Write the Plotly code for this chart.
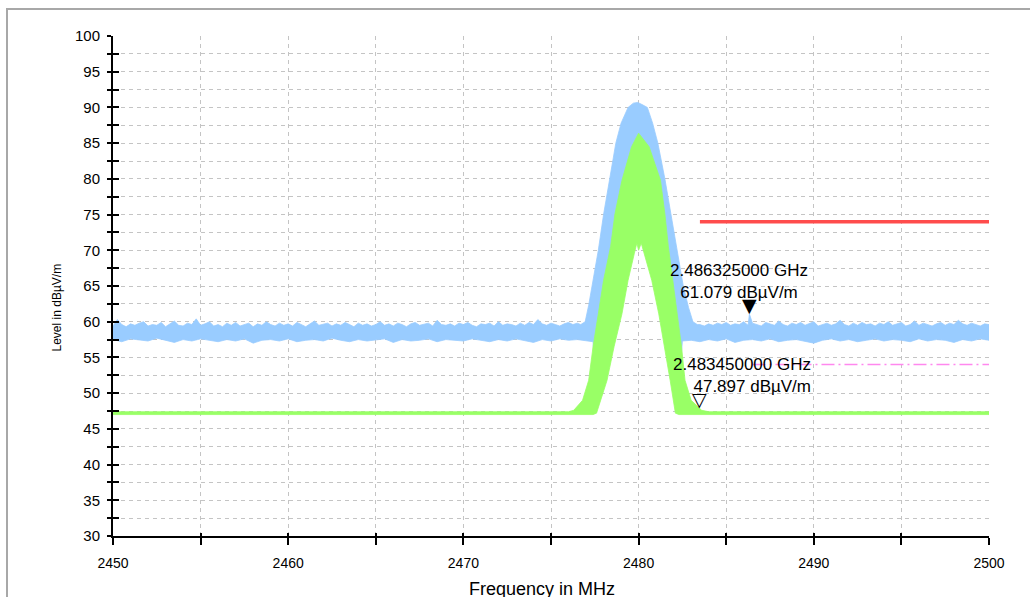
import plotly.graph_objects as go

# ---- data (frequency in MHz, level in dBuV/m) ----

# blue trace, noise floor upper envelope, 0.25 MHz grid
blue_hi_left_f = [2450 + 0.25 * i for i in range(107)]
blue_hi_left = [
    59.4, 60.3, 59.6, 59.3, 59.7, 59.5, 59.8, 60.0, 59.4, 59.6,
    59.5, 59.9, 59.3, 59.7, 60.1, 59.5, 59.4, 59.8, 59.6, 60.4,
    59.5, 59.7, 60.0, 59.4, 59.6, 59.3, 59.8, 59.5, 59.9, 59.4,
    59.6, 59.8, 59.3, 59.7, 59.5, 60.0, 59.6, 59.4, 59.8, 59.5,
    59.7, 59.4, 59.9, 59.6, 59.3, 59.7, 60.1, 59.5, 59.6, 59.8,
    59.4, 59.7, 59.5, 59.9, 59.6, 59.3, 59.8, 59.5, 59.7, 59.4,
    59.6, 60.0, 59.5, 59.7, 59.4, 59.8, 59.6, 59.3, 59.7, 59.9,
    59.5, 59.6, 59.8, 59.4, 60.2, 59.6, 59.5, 59.7, 59.4, 59.8,
    59.6, 59.9, 59.5, 59.3, 59.7, 59.6, 59.8, 59.4, 60.0, 59.5,
    59.7, 59.6, 59.4, 59.8, 59.5, 59.9, 59.6, 60.3, 59.7, 59.5,
    59.8, 59.6, 59.4, 59.7, 59.9, 59.6, 59.8,
]
blue_hi_right_f = [2483.5 + 0.25 * i for i in range(67)]
blue_hi_right = [
    59.6, 59.4, 59.7, 59.5, 59.8, 59.6, 59.9, 59.5, 59.7, 59.6,
    60.0, 59.5, 59.8, 59.6, 59.4, 59.9, 59.7, 59.5, 60.1, 59.6,
    59.4, 59.8, 59.6, 59.9, 59.5, 59.7, 60.0, 59.4, 59.6, 59.8,
    59.5, 59.7, 60.2, 59.6, 59.4, 59.8, 59.5, 59.9, 59.6, 59.7,
    59.4, 59.8, 59.6, 60.0, 59.5, 59.7, 59.9, 59.4, 59.6, 60.1,
    59.5, 59.8, 59.6, 59.4, 59.7, 59.9, 59.5, 59.8, 59.6, 60.2,
    59.7, 59.5, 59.8, 59.6, 59.4, 59.7, 59.6,
]
# blue trace, carrier upper envelope
blue_hi_peak_f = [2476.7, 2476.95, 2477.15, 2477.35, 2477.7, 2478.0, 2478.35, 2478.7,
                  2479.0, 2479.4, 2479.7, 2479.95, 2480.2, 2480.5, 2480.8, 2481.1,
                  2481.5, 2481.85, 2482.2, 2482.55, 2482.85, 2483.1, 2483.35]
blue_hi_peak = [59.6, 60.0, 62.3, 65.0, 70.0, 75.0, 80.0, 85.0,
                87.8, 90.0, 90.6, 90.7, 90.4, 90.0, 87.8, 85.0,
                80.0, 75.0, 70.0, 65.0, 62.0, 60.0, 59.6]

# blue trace, lower envelope, 0.5 MHz grid
blue_lo_left_f = [2450 + 0.5 * i for i in range(54)]
blue_lo_left = [
    57.5, 57.2, 57.6, 57.4, 57.3, 57.7, 57.4, 57.1, 57.5, 57.3,
    57.6, 57.4, 57.2, 57.5, 57.3, 57.6, 57.0, 57.4, 57.5, 57.3,
    57.6, 57.2, 57.4, 57.5, 57.3, 57.7, 57.4, 57.2, 57.5, 57.3,
    57.4, 57.6, 57.1, 57.5, 57.3, 57.4, 57.6, 57.2, 57.5, 57.4,
    57.3, 57.6, 57.4, 57.2, 57.5, 57.3, 57.6, 57.4, 57.1, 57.5,
    57.3, 57.6, 57.4, 57.5,
]
blue_lo_right_f = [2483.0 + 0.5 * i for i in range(35)]
blue_lo_right = [
    57.4, 57.2, 57.5, 57.3, 57.6, 57.1, 57.4, 57.5, 57.3, 57.6,
    57.2, 57.4, 57.5, 57.3, 57.0, 57.4, 57.6, 57.3, 57.5, 57.2,
    57.4, 57.6, 57.3, 57.5, 57.4, 57.2, 57.6, 57.3, 57.5, 57.4,
    57.1, 57.5, 57.3, 57.6, 57.4,
]
blue_lo_peak_f = [2477.0, 2477.4, 2477.45, 2478.0, 2478.65, 2479.05, 2479.6, 2480.0,
                  2480.6, 2481.25, 2481.5, 2481.95, 2482.4, 2482.5]
blue_lo_peak = [57.3, 57.2, 54.0, 58.0, 66.0, 70.0, 76.0, 78.0,
                76.0, 70.0, 66.0, 58.0, 54.0, 57.3]

# green trace, upper and lower envelope
green_hi_f = [2450.0, 2476.0, 2476.3, 2476.8, 2477.15, 2477.4, 2477.7, 2478.0, 2478.4,
              2478.65, 2479.05, 2479.6, 2480.0, 2480.6, 2481.25, 2481.5, 2481.7,
              2481.95, 2482.2, 2482.45, 2482.65, 2483.0, 2483.6, 2484.0, 2500.0]
green_hi = [47.4, 47.4, 47.6, 49.0, 51.8, 56.5, 61.1, 65.8, 70.5,
            75.1, 79.8, 84.5, 86.4, 84.5, 79.8, 75.1, 70.5,
            65.8, 61.1, 56.5, 51.8, 49.0, 47.6, 47.4, 47.4]
green_lo_f = [2450.0, 2477.4, 2477.6, 2478.2, 2478.6, 2479.05, 2479.4, 2479.75, 2479.9,
              2480.0, 2480.15, 2480.35, 2480.75, 2481.15, 2481.45, 2481.8, 2482.1,
              2482.3, 2500.0]
green_lo = [47.0, 47.0, 47.2, 51.8, 56.5, 61.1, 65.8, 69.5, 71.0,
            70.0, 71.0, 69.5, 65.8, 61.1, 56.5, 51.8, 47.2,
            47.0, 47.0]

# limit lines
limit_red_f = [2483.5, 2500.0]
limit_red = [74.0, 74.0]
limit_pink_f = [2486.5, 2500.0]
limit_pink = [54.0, 54.0]

# markers
marker_f = [2486.325, 2483.45]
marker_level = [61.079, 47.897]
marker_text = ["2.486325000 GHz<br>61.079 dBµV/m", "2.483450000 GHz<br>47.897 dBµV/m"]
marker_glyph = ["▼", "▽"]

FONT = "Liberation Sans, Arial, sans-serif"
GRID = "#c4c4c4"


def band(f_hi, v_hi, f_lo, v_lo):
    xs = list(f_hi) + list(reversed(f_lo))
    ys = list(v_hi) + list(reversed(v_lo))
    return xs, ys


hi = sorted(list(zip(blue_hi_left_f, blue_hi_left)) + list(zip(blue_hi_peak_f, blue_hi_peak))
            + list(zip(blue_hi_right_f, blue_hi_right)) + [(marker_f[0], marker_level[0])])
lo = sorted(list(zip(blue_lo_left_f, blue_lo_left)) + list(zip(blue_lo_peak_f, blue_lo_peak))
            + list(zip(blue_lo_right_f, blue_lo_right)))
bx, by = band([p[0] for p in hi], [p[1] for p in hi], [p[0] for p in lo], [p[1] for p in lo])
gx, gy = band(green_hi_f, green_hi, green_lo_f, green_lo)

fig = go.Figure()
fig.add_trace(go.Scatter(x=bx, y=by, fill="toself", fillcolor="#99ccff", mode="lines",
                         line=dict(color="#99ccff", width=0.8), hoverinfo="skip"))
fig.add_trace(go.Scatter(x=gx, y=gy, fill="toself", fillcolor="#99ff66", mode="lines",
                         line=dict(color="#99ff66", width=0.8), hoverinfo="skip"))
fig.add_trace(go.Scatter(x=limit_red_f, y=limit_red, mode="lines",
                         line=dict(color="#ff4c4c", width=3.5), hoverinfo="skip"))
fig.add_trace(go.Scatter(x=limit_pink_f, y=limit_pink, mode="lines",
                         line=dict(color="#ff88ee", width=1.5, dash="13px,4px,2px,4px"),
                         hoverinfo="skip"))
# empty traces so the overlay axes (inner tick halves) get drawn
fig.add_trace(go.Scatter(x=[], y=[], xaxis="x2", yaxis="y"))
fig.add_trace(go.Scatter(x=[], y=[], xaxis="x", yaxis="y2"))

# marker readouts
fig.add_annotation(x=marker_f[0], y=marker_level[0], text=marker_text[0], showarrow=False,
                   xanchor="center", yanchor="bottom", xshift=-10, yshift=10, align="center",
                   font=dict(family=FONT, size=17, color="black"))
fig.add_annotation(x=marker_f[1], y=marker_level[1], text=marker_text[1], showarrow=False,
                   xanchor="right", yanchor="bottom", xshift=114, yshift=10, align="right",
                   font=dict(family=FONT, size=17, color="black"))
for f, lv, g in zip(marker_f, marker_level, marker_glyph):
    fig.add_annotation(x=f, y=lv, text=g, showarrow=False, xanchor="center", yanchor="bottom",
                       yshift=-3, borderpad=0,
                       font=dict(family="DejaVu Sans", size=19, color="black"))

# axis titles
fig.add_annotation(xref="paper", yref="paper", x=0.4897, y=-0.106, text="Frequency in MHz",
                   showarrow=False, xanchor="center", yanchor="middle",
                   font=dict(family=FONT, size=18, color="black"))
fig.add_annotation(xref="paper", yref="paper", x=-0.0628, y=0.457, text="Level in dBµV/m",
                   textangle=-90, showarrow=False, xanchor="center", yanchor="middle",
                   font=dict(family=FONT, size=12, color="black"))

# outer frame
fig.add_shape(type="rect", xref="paper", yref="paper", x0=-0.121, x1=1.06, y0=-0.2, y1=1.054,
              line=dict(color="#a8a8a8", width=2), layer="below")

fig.update_layout(
    width=1030, height=597,
    margin=dict(l=113, r=41, t=36, b=61),
    paper_bgcolor="white", plot_bgcolor="white",
    showlegend=False,
    font=dict(family=FONT, size=14, color="black"),
    xaxis=dict(
        range=[2450, 2500], tickmode="linear", tick0=2450, dtick=10,
        ticks="outside", ticklen=7, tickwidth=2, tickcolor="black",
        showline=True, linecolor="black", linewidth=2,
        showgrid=True, gridcolor=GRID, griddash="4px,4px", gridwidth=1,
        zeroline=False, ticklabelstandoff=6,
        tickfont=dict(family=FONT, size=14, color="black"),
        minor=dict(dtick=5, tick0=2450, ticks="outside", ticklen=7, tickwidth=2, tickcolor="black",
                   showgrid=True, gridcolor=GRID, griddash="4px,4px", gridwidth=1),
    ),
    yaxis=dict(
        range=[30, 100], tickmode="linear", tick0=30, dtick=5,
        ticks="outside", ticklen=4, tickwidth=2, tickcolor="black",
        showline=True, linecolor="black", linewidth=2,
        showgrid=True, gridcolor=GRID, griddash="4px,4px", gridwidth=1,
        zeroline=False, ticklabelstandoff=4,
        tickfont=dict(family=FONT, size=15, color="black"),
        minor=dict(dtick=2.5, tick0=30, ticks="outside", ticklen=4, tickwidth=2, tickcolor="black",
                   showgrid=True, gridcolor=GRID, griddash="4px,4px", gridwidth=1),
    ),
    xaxis2=dict(
        overlaying="x", anchor="y", side="bottom", range=[2450, 2500],
        tickmode="linear", tick0=2450, dtick=5, ticks="inside", ticklen=3, tickwidth=2,
        tickcolor="black", showticklabels=False, showgrid=False, zeroline=False, showline=False,
    ),
    yaxis2=dict(
        overlaying="y", anchor="x", side="left", range=[30, 100],
        tickmode="linear", tick0=30, dtick=2.5, ticks="inside", ticklen=6, tickwidth=2,
        tickcolor="black", showticklabels=False, showgrid=False, zeroline=False, showline=False,
    ),
)

# page body has a default 8px margin; drop it so the figure sits at the window corner
fig.write_html("out.html", config={"displayModeBar": False},
               post_script="document.body.style.margin='0';")
